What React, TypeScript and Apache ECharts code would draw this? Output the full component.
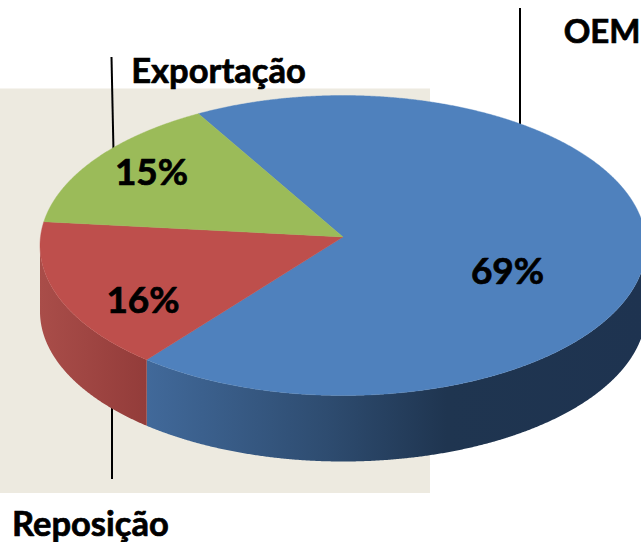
import React, { useEffect, useRef } from "react";
import * as echarts from "echarts";

const categories = ["OEM", "Reposição", "Exportação"];
const shares = [69, 16, 15];
const topColors = ["#4F81BD", "#BE4F4C", "#9BBB59"];
const sideStops: [number, string][][] = [
  [[0, "#41699A"], [0.36, "#2E4C70"], [0.6, "#1F3550"], [1, "#1E3350"]],
  [[0, "#A94D49"], [1, "#933C3A"]],
  [[0, "#7C9647"], [1, "#7C9647"]],
];

const W = 641;
const H = 542;
const CX = 343;
const CY = 245.5;
const RX = 303;
const RY = 150;
const DEPTH = 66;
const TILT = 0.057;
const START_DEG = 239.9;
const FONT = "Lato, Carlito, sans-serif";
const pctPos = [[507.5, 269], [143, 298], [151.5, 170.5]];
const namePos: [number, number, string][] = [[640.5, 30, "right"], [12, 522, "left"], [218.5, 69, "center"]];
const nameSizes = [33, 34.5, 34.5];

// perspective mapping of the round pie on to the visible ellipse
function project(deg: number) {
  const a = (deg * Math.PI) / 180;
  const den = 1 - TILT * Math.sin(a);
  return {
    u: (Math.sqrt(1 - TILT * TILT) * Math.cos(a)) / den,
    v: (Math.sin(a) - TILT) / den,
  };
}

function renderSlice(params: any, api: any) {
  const i = params.dataIndex;
  const total = shares.reduce((s, v) => s + v, 0);
  let from = START_DEG;
  for (let k = 0; k < i; k++) from += (shares[k] / total) * 360;
  const span = (api.value(0) / total) * 360;
  const n = Math.ceil(span * 4);
  const arc: number[][] = [];
  const front: number[][] = [];
  for (let k = 0; k <= n; k++) {
    const p = project(from + (span * k) / n);
    const pt = [CX + RX * p.u, CY + RY * p.v];
    arc.push(pt);
    if (p.v >= -0.001) front.push(pt);
  }
  const apex = [CX, CY - TILT * RY];
  const children: any[] = [];
  if (front.length > 1) {
    const side = front.concat(front.slice().reverse().map((p) => [p[0], p[1] + DEPTH]));
    children.push({
      type: "polygon",
      shape: { points: side },
      style: {
        fill: new echarts.graphic.LinearGradient(
          0, 0, 1, 0,
          sideStops[i].map(([offset, color]) => ({ offset, color }))
        ),
      },
    });
  }
  children.push({
    type: "polygon",
    shape: { points: [apex, ...arc] },
    style: { fill: topColors[i], stroke: topColors[i], lineWidth: 0.4 },
  });
  children.push({
    type: "text",
    z2: 10,
    style: {
      x: pctPos[i][0],
      y: pctPos[i][1],
      text: `${api.value(0)}%`,
      fill: "#000",
      stroke: "#000",
      lineWidth: 0.7,
      font: `bold 37px ${FONT}`,
      align: "center",
      verticalAlign: "middle",
    },
  });
  return { type: "group", children };
}

export default function App() {
  const ref = useRef<HTMLDivElement>(null);
  useEffect(() => {
    document.body.style.margin = "0";
    document.body.style.overflow = "hidden";
    const chart = echarts.init(ref.current!, undefined, { renderer: "svg" });
    const line = (x1: number, y1: number, x2: number, y2: number) => ({
      type: "line",
      shape: { x1, y1, x2, y2 },
      style: { stroke: "#000", lineWidth: 2 },
    });
    chart.setOption({
      animation: false,
      backgroundColor: "#fff",
      graphic: [
        {
          type: "rect",
          shape: { x: 0, y: 88.5, width: 430, height: 404.5 },
          style: { fill: "#EDEAE0" },
        },
        line(111.5, 57, 113.5, 152),
        line(112, 400, 112, 479),
        line(520, 8, 520, 128),
        ...categories.map((text, i) => ({
          type: "text",
          style: {
            x: namePos[i][0],
            y: namePos[i][1],
            text,
            fill: "#000",
            stroke: "#000",
            lineWidth: 0.7,
            font: `bold ${nameSizes[i]}px ${FONT}`,
            align: namePos[i][2],
            verticalAlign: "middle",
          },
        })),
      ],
      series: [
        {
          type: "custom",
          coordinateSystem: "none",
          data: shares.map((value, i) => ({ name: categories[i], value: [value] })),
          renderItem: renderSlice,
          silent: true,
          clip: false,
        },
      ],
    });
    return () => chart.dispose();
  }, []);
  return <div ref={ref} style={{ width: W, height: H }} />;
}
